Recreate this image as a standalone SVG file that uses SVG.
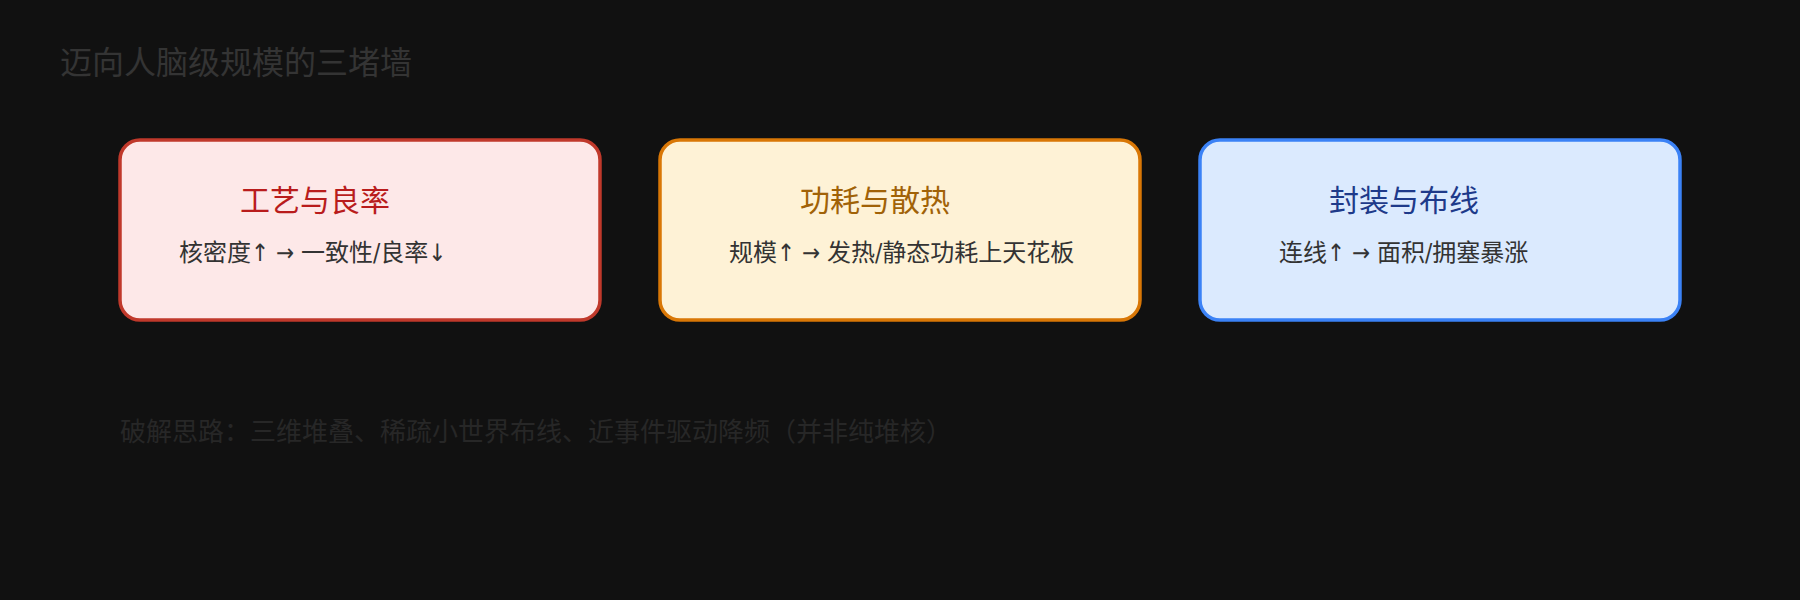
<svg xmlns="http://www.w3.org/2000/svg" width="1800" height="600" viewBox="0 0 1800 600">
  <style>
    text { font-family: "Noto Sans CJK SC", "Liberation Sans", sans-serif; }
    .box { stroke-width: 3.5; }
    .ttl { font-size: 30px; }
    .body { font-size: 24px; fill: #333333; font-family: "DejaVu Sans Condensed", "Noto Sans CJK SC", sans-serif; }
  </style>
  <rect x="0" y="0" width="1800" height="600" fill="#111111"/>
  <text x="60" y="74" font-size="32" fill="#343434">迈向人脑级规模的三堵墙</text>
  <g id="connectors"></g>
  <g id="node-process">
    <rect class="box" x="120" y="140" width="480" height="180" rx="20" ry="20" fill="#fde8e8" stroke="#c0392b"/>
    <text class="ttl" x="240" y="211" fill="#b91c1c">工艺与良率</text>
    <text class="body" x="179" y="261">核密度↑ → 一致性/良率↓</text>
  </g>
  <g id="node-power">
    <rect class="box" x="660" y="140" width="480" height="180" rx="20" ry="20" fill="#fef2d6" stroke="#d97706"/>
    <text class="ttl" x="800" y="211" fill="#a16207">功耗与散热</text>
    <text class="body" x="729" y="261">规模↑ → 发热/静态功耗上天花板</text>
  </g>
  <g id="node-packaging">
    <rect class="box" x="1200" y="140" width="480" height="180" rx="20" ry="20" fill="#dbeafe" stroke="#3b82f6"/>
    <text class="ttl" x="1329" y="211" fill="#1e3a8a">封装与布线</text>
    <text class="body" x="1279" y="261">连线↑ → 面积/拥塞暴涨</text>
  </g>
  <text x="120" y="441" font-size="26" fill="#272727">破解思路：三维堆叠、稀疏小世界布线、近事件驱动降频（并非纯堆核）</text>
</svg>
